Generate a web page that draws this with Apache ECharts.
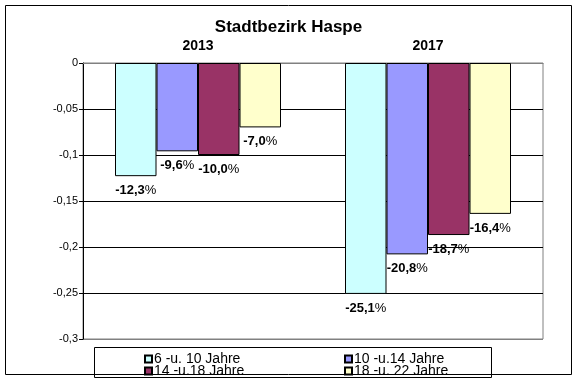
<!DOCTYPE html>
<html>
<head>
<meta charset="utf-8">
<script src="https://cdn.jsdelivr.net/npm/echarts@6/dist/echarts.min.js"></script>
<style>
html,body{margin:0;padding:0;background:#fff;}
#c{width:577px;height:381px;}
</style>
</head>
<body>
<div id="c"></div>
<script>
const titleText = 'Stadtbezirk Haspe';
const categories = ['2013', '2017'];
const seriesNames = ['6 -u. 10 Jahre', '10 -u.14 Jahre', '14 -u.18 Jahre', '18 -u. 22 Jahre'];
const vals6to10 = [-0.123, -0.251];
const vals10to14 = [-0.096, -0.208];
const vals14to18 = [-0.100, -0.187];
const vals18to22 = [-0.070, -0.164];
const seriesColors = ['#CCFFFF', '#9999FF', '#993366', '#FFFFCC'];
const yMin = -0.3, yMax = 0, yStep = 0.05;

const FONT = '"Liberation Sans", Arial, sans-serif';
const allVals = [vals6to10, vals10to14, vals14to18, vals18to22];

function pct(v) {
  return (v * 100).toFixed(1).replace('.', ',');
}

const series = seriesNames.map((name, i) => ({
  name: name,
  type: 'bar',
  data: allVals[i],
  barWidth: 41.5,
  barGap: '0%',
  itemStyle: { color: seriesColors[i], borderColor: '#000', borderWidth: 1 },
  label: {
    show: true,
    position: 'bottom',
    distance: 8,
    formatter: p => '{b|' + pct(p.value) + '}{p|%}',
    rich: {
      b: { fontFamily: FONT, fontSize: 13, fontWeight: 'bold', color: '#000' },
      p: { fontFamily: FONT, fontSize: 13, fontWeight: 'normal', color: '#000' }
    }
  }
}));

const legendPos = [[144, 352], [344, 352], [144, 364], [344, 364]];
const legends = seriesNames.map((name, i) => ({
  data: [name],
  left: legendPos[i][0],
  top: legendPos[i][1],
  padding: 0,
  itemWidth: 7,
  itemHeight: 7,
  itemGap: 0,
  icon: 'rect',
  selectedMode: false,
  textStyle: { fontFamily: FONT, fontSize: 14, lineHeight: 12, color: '#000', padding: [0, 0, 0, -3] }
}));

const chart = echarts.init(document.getElementById('c'), null, { renderer: 'canvas' });
chart.setOption({
  animation: false,
  backgroundColor: '#fff',
  title: {
    text: titleText,
    left: 'center',
    top: 19,
    padding: 0,
    textStyle: { fontFamily: FONT, fontSize: 17, fontWeight: 'bold', color: '#000' }
  },
  legend: legends,
  graphic: [
    { type: 'rect', shape: { x: 5.5, y: 5.5, width: 566, height: 369 }, style: { fill: 'none', stroke: '#000', lineWidth: 1 }, z: 0 },
    { type: 'rect', shape: { x: 94.5, y: 347.5, width: 397, height: 30 }, style: { fill: 'none', stroke: '#000', lineWidth: 1 }, z: 0 }
  ],
  grid: {
    left: 83, top: 63, right: 34, bottom: 42,
    show: true, borderColor: '#808080', borderWidth: 1, backgroundColor: 'transparent'
  },
  xAxis: {
    type: 'category',
    data: categories,
    position: 'top',
    axisLine: { show: true, lineStyle: { color: '#808080', width: 1 } },
    axisTick: { show: false },
    axisLabel: { fontFamily: FONT, fontSize: 14, fontWeight: 'bold', color: '#000', margin: 10 },
    splitLine: { show: false }
  },
  yAxis: {
    type: 'value',
    min: yMin, max: yMax, interval: yStep,
    axisLine: { show: true, onZero: false, lineStyle: { color: '#000', width: 1 } },
    axisTick: { show: true, length: 4, inside: false, lineStyle: { color: '#000' } },
    axisLabel: {
      fontFamily: FONT, fontSize: 11, color: '#000', margin: 5,
      formatter: v => (Math.abs(v) < 1e-9 ? '0' : String(+v.toFixed(2)).replace('.', ','))
    },
    splitLine: { show: true, lineStyle: { color: ['#808080', '#000', '#000', '#000', '#000', '#000', '#808080'], width: 1 } }
  },
  series: series
});
</script>
</body>
</html>
